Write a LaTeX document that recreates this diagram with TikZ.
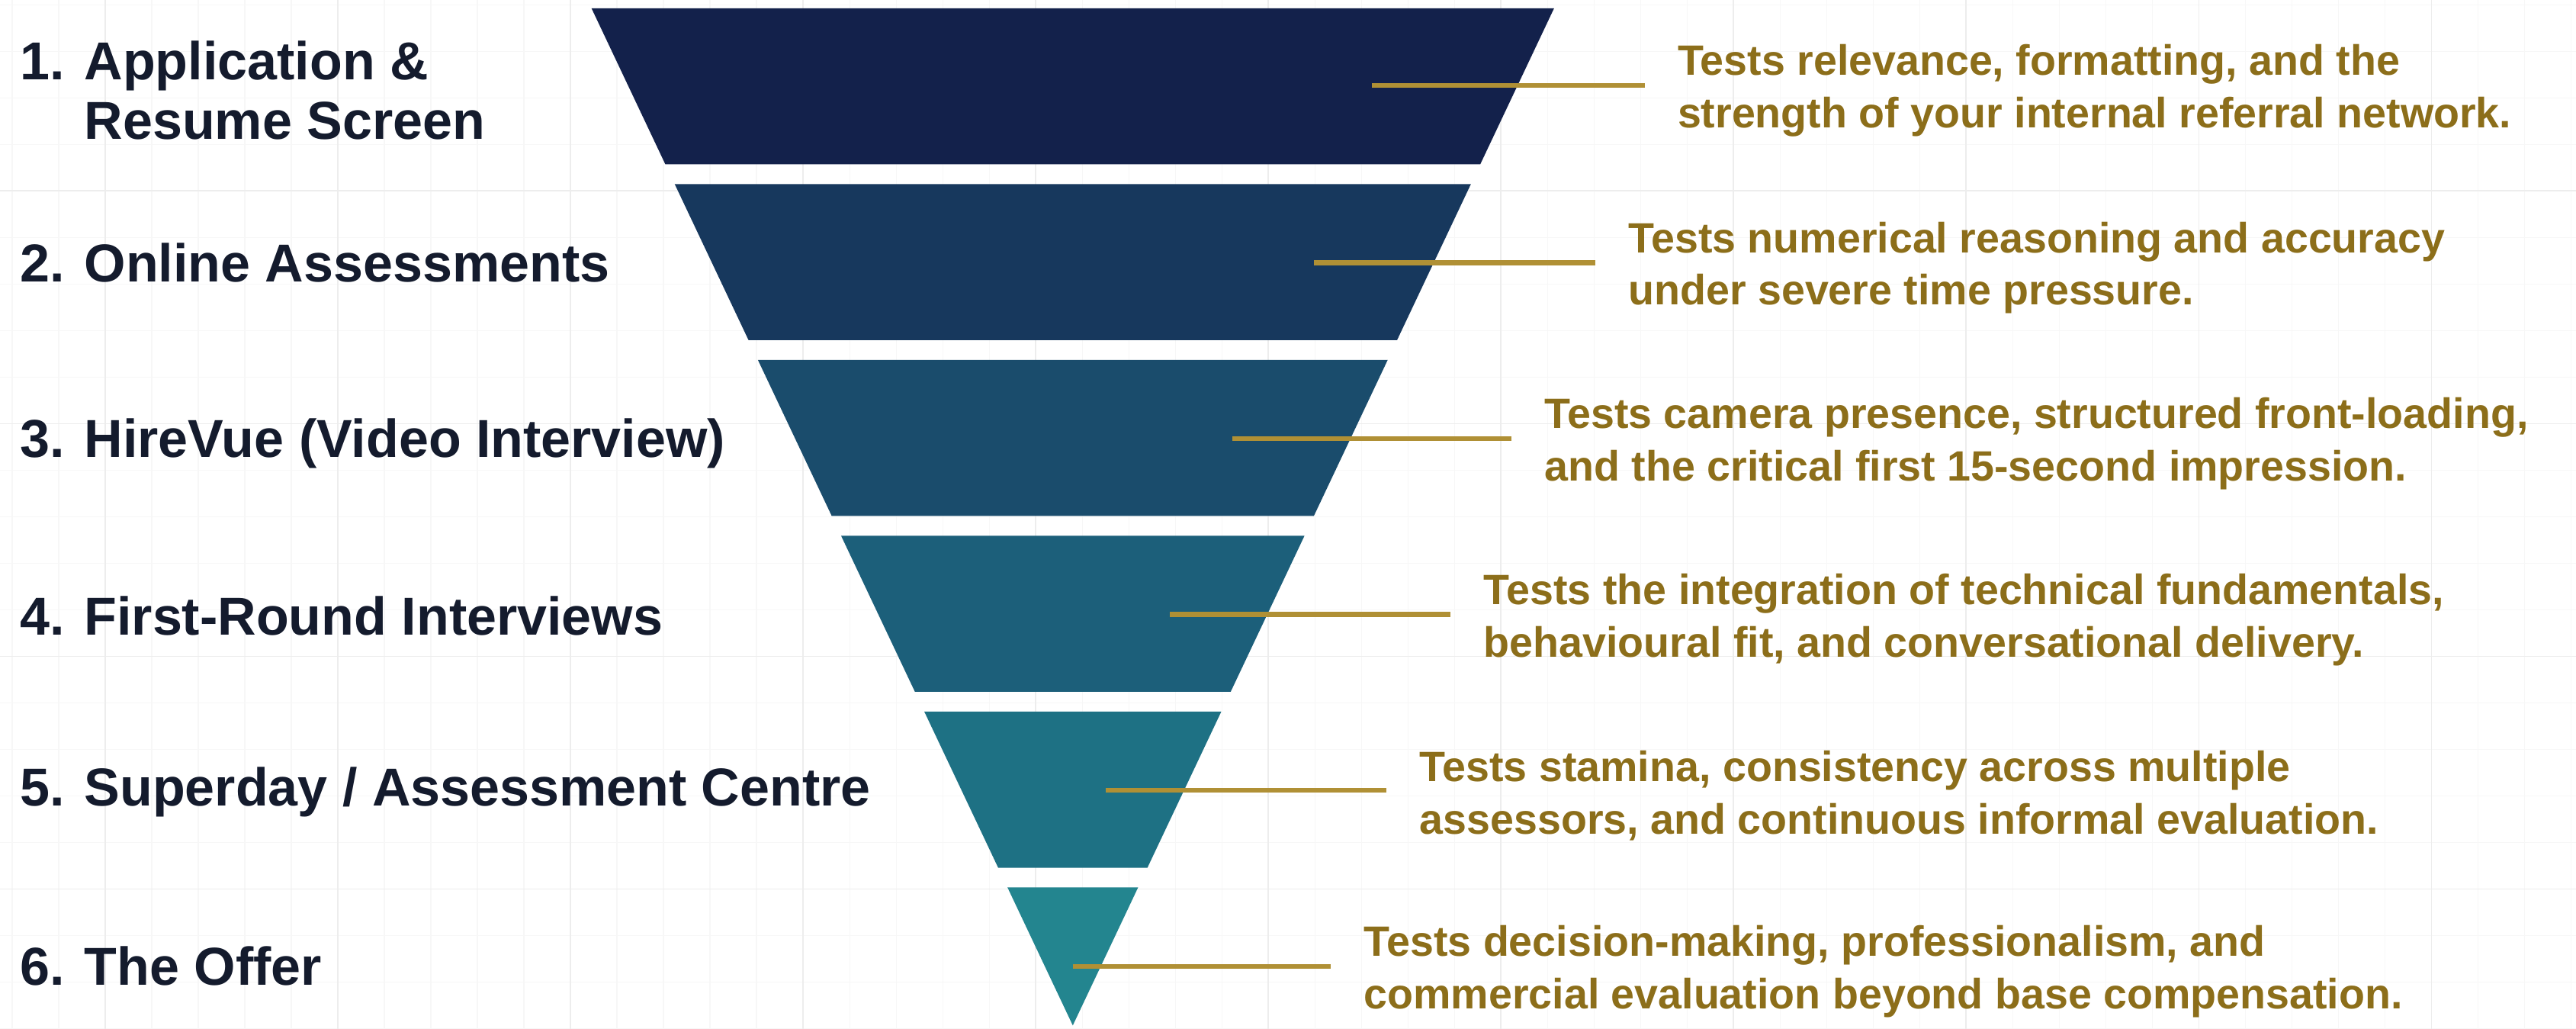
\documentclass[tikz,border=0pt]{standalone}
\usepackage{fontspec}
\setmainfont{Liberation Sans}
\usetikzlibrary{calc}
\definecolor{band1}{HTML}{13214B}
\definecolor{band2}{HTML}{17385D}
\definecolor{band3}{HTML}{1A4C6C}
\definecolor{band4}{HTML}{1C5F7A}
\definecolor{band5}{HTML}{1E7184}
\definecolor{band6}{HTML}{23858F}
\definecolor{gold}{HTML}{B09035}
\definecolor{goldtext}{HTML}{8C6E1A}
\definecolor{ink}{HTML}{141B2D}
\tikzstyle{funnel}=[
  x=1pt,y=-1pt
]
\tikzstyle{stage}=[
  anchor=west,inner sep=0pt,align=left,text=ink,font=\fontsize{32.5}{36}\selectfont\bfseries
]
\tikzstyle{desc}=[
  anchor=west,inner xsep=20pt,inner ysep=0pt,yshift=-3pt,align=left,text=goldtext,font=\fontsize{25.8}{32}\selectfont\bfseries
]
\tikzstyle{leader}=[
  draw=gold,line width=3pt
]
\tikzstyle{minorgrid}=[
  draw=black!3,line width=0.6pt
]
\tikzstyle{majorgrid}=[
  draw=black!7,line width=0.8pt
]
\begin{document}
\begin{tikzpicture}[funnel]

    \useasboundingbox (0,0) rectangle (1568,626);
    \fill[white] (0,0) rectangle (1568,626);

    % background grid
    \foreach \n in {0,...,55}{
      \pgfmathsetmacro\gx{7.4+28.32*\n}
      \draw[minorgrid] (\gx,0) -- (\gx,626);
    }
    \foreach \n in {0,...,22}{
      \pgfmathsetmacro\gy{2.9+28.32*\n}
      \draw[minorgrid] (0,\gy) -- (1568,\gy);
    }
    \foreach \n in {0,...,11}{
      \pgfmathsetmacro\gx{64+141.6*\n}
      \draw[majorgrid] (\gx,0) -- (\gx,626);
    }
    \foreach \n in {0,...,3}{
      \pgfmathsetmacro\gy{116.2+141.6*\n}
      \draw[majorgrid] (0,\gy) -- (1568,\gy);
    }

    \def\cx{653}
    \def\ftop{5}
    \def\ftip{624}
    \def\pitch{107}
    \def\bandh{95}
    \def\slope{0.4733}

    \foreach \i/\c in {0/band1,1/band2,2/band3,3/band4,4/band5}{
      \pgfmathsetmacro\yt{\ftop+\pitch*\i}
      \pgfmathsetmacro\yb{\yt+\bandh}
      \pgfmathsetmacro\wt{\slope*(\ftip-\yt)}
      \pgfmathsetmacro\wb{\slope*(\ftip-\yb)}
      \fill[\c] (\cx-\wt,\yt) -- (\cx+\wt,\yt) -- (\cx+\wb,\yb) -- (\cx-\wb,\yb) -- cycle;
    }
    \pgfmathsetmacro\yt{\ftop+\pitch*5}
    \pgfmathsetmacro\wt{\slope*(\ftip-\yt)}
    \fill[band6] (\cx-\wt,\yt) -- (\cx+\wt,\yt) -- (\cx,\ftip) -- cycle;

    \node (s1) at (12,55) [stage] {1. Application \&\\\hphantom{1. }Resume Screen};
    \node (s2) at (12,160) [stage] {2. Online Assessments};
    \node (s3) at (12,270) [stage] {3. HireVue (Video Interview)};
    \node (s4) at (12,375) [stage] {4. First-Round Interviews};
    \node (s5) at (12,482) [stage] {5. Superday / Assessment Centre};
    \node (s6) at (12,588) [stage] {6. The Offer};

    \coordinate (p1) at (835,52);
    \coordinate (p2) at (800,160);
    \coordinate (p3) at (750,267);
    \coordinate (p4) at (712,374);
    \coordinate (p5) at (673,481);
    \coordinate (p6) at (653,588);

    \node (d1) at (1001,52) [desc] {Tests relevance, formatting, and the\\strength of your internal referral network.};
    \node (d2) at (971,160) [desc] {Tests numerical reasoning and accuracy\\under severe time pressure.};
    \node (d3) at (920,267) [desc] {Tests camera presence, structured front-loading,\\and the critical first 15-second impression.};
    \node (d4) at (883,374) [desc] {Tests the integration of technical fundamentals,\\behavioural fit, and conversational delivery.};
    \node (d5) at (844,481) [desc] {Tests stamina, consistency across multiple\\assessors, and continuous informal evaluation.};
    \node (d6) at (810,588) [desc] {Tests decision-making, professionalism, and\\commercial evaluation beyond base compensation.};

    \foreach \i in {1,...,6}
      \draw [leader] (p\i) -- (p\i -| d\i.west);

\end{tikzpicture}
\end{document}
